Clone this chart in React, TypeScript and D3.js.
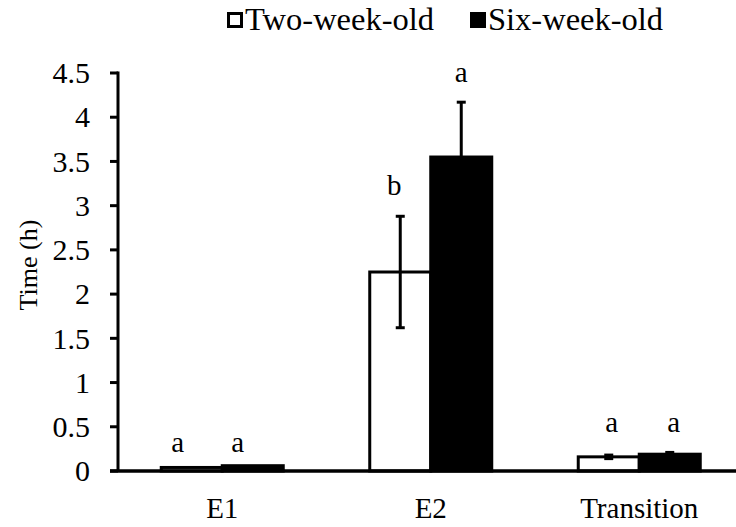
import React from "react";
import * as d3 from "d3";

const categories = ["E1", "E2", "Transition"];
const seriesNames = ["Two-week-old", "Six-week-old"];
const twoWeek = [0.04, 2.25, 0.16];
const twoWeekErr = [0.0, 0.63, 0.02];
const sixWeek = [0.06, 3.55, 0.19];
const sixWeekErr = [0.0, 0.62, 0.02];
const twoWeekLetters = ["a", "b", "a"];
const sixWeekLetters = ["a", "a", "a"];
const twoWeekLetterY = [0.215, 3.12, 0.44];
const sixWeekLetterY = [0.215, 4.4, 0.44];
const twoWeekLetterDx = [-14, -6, 3];
const sixWeekLetterDx = [-15, 0, 4];
const yTicks = [0, 0.5, 1, 1.5, 2, 2.5, 3, 3.5, 4, 4.5];

const W = 736;
const H = 527;
const FONT = "'Liberation Serif', 'Times New Roman', Times, 'DejaVu Serif', serif";
const ts = { fontFamily: FONT };

export default function App() {
  const left = 118;
  const yScale = d3.scaleLinear().domain([0, 4.5]).range([471, 73]);
  const x0 = d3.scaleBand().domain(categories).range([left, left + 3 * 208.5]).paddingInner(0).paddingOuter(0);
  const x1 = d3.scaleBand().domain(seriesNames).range([0, x0.bandwidth()]).paddingInner(0).paddingOuter(0.709);

  const series = [
    { name: seriesNames[0], vals: twoWeek, errs: twoWeekErr, letters: twoWeekLetters, ly: twoWeekLetterY, dx: twoWeekLetterDx, fill: "#fff" },
    { name: seriesNames[1], vals: sixWeek, errs: sixWeekErr, letters: sixWeekLetters, ly: sixWeekLetterY, dx: sixWeekLetterDx, fill: "#000" },
  ];

  const y0 = yScale(0);

  return (
    <svg width={W} height={H} style={{ position: "absolute", left: 0, top: 0, background: "#fff" }}>
      <rect x={0} y={0} width={W} height={H} fill="#fff" />
      {series.map((s) =>
        categories.map((c, i) => {
          const bx = (x0(c) as number) + (x1(s.name) as number);
          const bw = x1.bandwidth();
          const yt = yScale(s.vals[i]);
          const cx = bx + bw / 2;
          const eTop = yScale(s.vals[i] + s.errs[i]);
          const eBot = yScale(s.vals[i] - s.errs[i]);
          return (
            <g key={s.name + c}>
              <rect x={bx} y={yt} width={bw} height={y0 - yt} fill={s.fill} stroke="#000" strokeWidth={3} />
              {s.errs[i] > 0 && (
                <g stroke="#000" strokeWidth={3}>
                  <line x1={cx} x2={cx} y1={eTop} y2={eBot} />
                  <line x1={cx - 4.5} x2={cx + 4.5} y1={eTop} y2={eTop} />
                  <line x1={cx - 4.5} x2={cx + 4.5} y1={eBot} y2={eBot} />
                </g>
              )}
              <text x={cx + s.dx[i]} y={yScale(s.ly[i])} fontSize={29} textAnchor="middle" fill="#000" style={ts}>
                {s.letters[i]}
              </text>
            </g>
          );
        })
      )}
      <line x1={left} x2={left} y1={yScale(4.5) - 1.5} y2={y0} stroke="#000" strokeWidth={3} />
      {yTicks.map((t) => (
        <g key={t}>
          <line x1={110} x2={left} y1={yScale(t)} y2={yScale(t)} stroke="#000" strokeWidth={3} />
          <text x={90} y={yScale(t)} dy="0.34em" fontSize={30} textAnchor="end" fill="#000" style={ts}>
            {String(t)}
          </text>
        </g>
      ))}
      <line x1={110} x2={W} y1={y0} y2={y0} stroke="#000" strokeWidth={3.5} />
      {categories.map((c) => (
        <text key={c} x={(x0(c) as number) + x0.bandwidth() / 2} y={518} fontSize={29} textAnchor="middle" fill="#000" style={ts}>
          {c}
        </text>
      ))}
      <text transform={`translate(37,265) rotate(-90)`} fontSize={26} textAnchor="middle" fill="#000" style={ts}>
        Time (h)
      </text>
      <rect x={228.5} y={13.5} width={13} height={13} fill="#fff" stroke="#000" strokeWidth={3} />
      <text x={245} y={30} fontSize={32.5} fill="#000" style={ts}>{seriesNames[0]}</text>
      <rect x={470} y={12} width={16} height={16} fill="#000" />
      <text x={488} y={30} fontSize={32.5} fill="#000" style={ts}>{seriesNames[1]}</text>
    </svg>
  );
}
